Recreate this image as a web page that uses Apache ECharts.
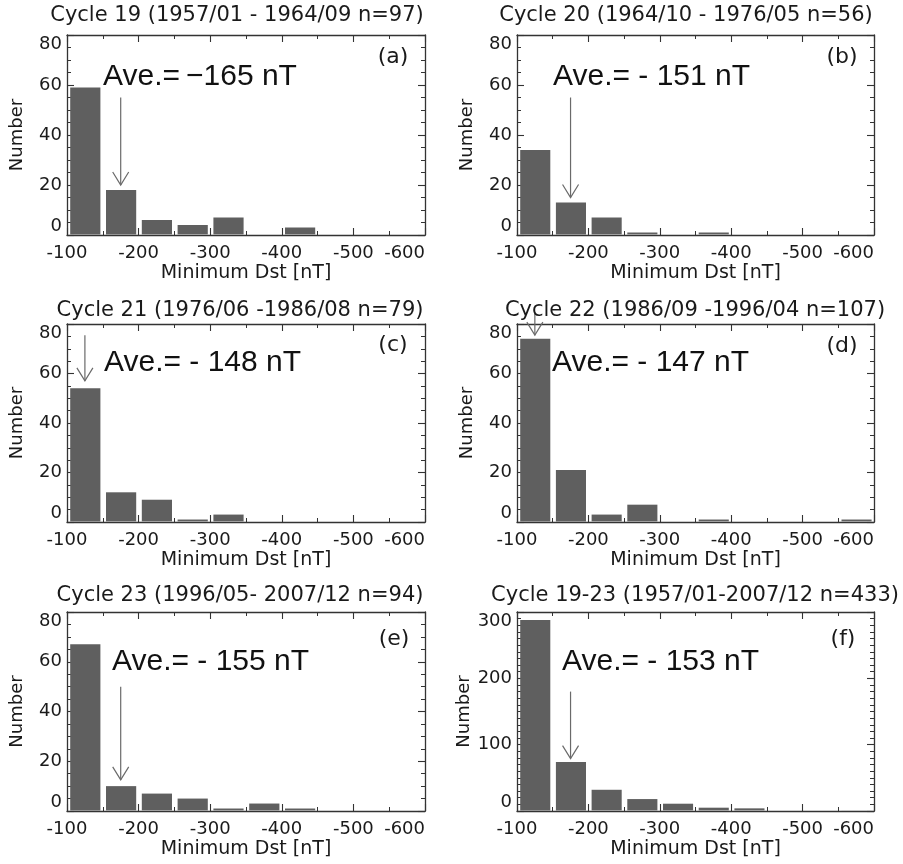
<!DOCTYPE html>
<html>
<head>
<meta charset="utf-8">
<script src="https://cdn.jsdelivr.net/npm/echarts@6/dist/echarts.min.js"></script>
<style>
html,body{margin:0;padding:0;background:#fff;}
#chart{width:903px;height:864px;}
</style>
</head>
<body>
<div id="chart"></div>
<script>
// ---- data ----
const binLow  = [-100, -150, -200, -250, -300, -350, -400, -450, -500, -550];
const binHigh = [-150, -200, -250, -300, -350, -400, -450, -500, -550, -600];
const cycle19   = [59, 18, 6, 4, 7, 0, 3, 0, 0, 0];
const cycle20   = [34, 13, 7, 1, 0, 1, 0, 0, 0, 0];
const cycle21   = [54, 12, 9, 1, 3, 0, 0, 0, 0, 0];
const cycle22   = [74, 21, 3, 7, 0, 1, 0, 0, 0, 1];
const cycle23   = [67, 10, 7, 5, 1, 3, 1, 0, 0, 0];
const cycle1923 = [288, 74, 32, 18, 11, 5, 4, 0, 0, 1];
const panelTitles = [
  'Cycle 19 (1957/01 - 1964/09 n=97)',
  'Cycle 20 (1964/10 - 1976/05 n=56)',
  'Cycle 21 (1976/06 -1986/08 n=79)',
  'Cycle 22 (1986/09 -1996/04 n=107)',
  'Cycle 23 (1996/05- 2007/12 n=94)',
  'Cycle 19-23 (1957/01-2007/12 n=433)'
];
const panelTags = ['(a)', '(b)', '(c)', '(d)', '(e)', '(f)'];
const aveTexts = ['Ave.=\u2009\u2212165 nT', 'Ave.= - 151 nT', 'Ave.= - 148 nT', 'Ave.= - 147 nT', 'Ave.= - 155 nT', 'Ave.= - 153 nT'];
// arrow: x (bin centre containing average), top value, tip value
const arrowX   = [-175, -175, -125, -125, -175, -175];
const arrowTop = [55, 55, 75.5, 84.5, 50, 180];
const arrowTip = [20, 15, 57, 75.5, 12.5, 79];
const yMax      = [80, 80, 80, 80, 80, 300];
const yInterval = [20, 20, 20, 20, 20, 100];
const yMinorSplit = [4, 4, 4, 4, 4, 10];

const counts = [cycle19, cycle20, cycle21, cycle22, cycle23, cycle1923];

// ---- layout (pixels) ----
const grids = [
  {left: 67,  top: 35,  width: 358, height: 200},
  {left: 517, top: 35,  width: 357, height: 200},
  {left: 67,  top: 324, width: 358, height: 198},
  {left: 517, top: 324, width: 357, height: 198},
  {left: 67,  top: 612, width: 358, height: 199},
  {left: 517, top: 612, width: 357, height: 199}
];
const titlePos = [[237, 5], [686, 5], [240, 300], [695, 300], [240, 585], [695, 585]];
const avePos = [[103, 77], [553, 77], [104, 363], [552, 363], [112, 662], [562, 662]];
const tagPos = [[393, 57], [842, 57], [393, 345], [842, 346], [394, 639], [843, 639]];

const AXIS_FONT = '"DejaVu Sans", sans-serif';
const TXT = '#1a1a1a';
const LINE = '#333';
const BAR = '#5f5f5f';

const xAxes = [], yAxes = [], series = [], titles = [], graphics = [];

grids.forEach((g, i) => {
  const common = {
    gridIndex: i,
    axisLine: {show: true, onZero: false, lineStyle: {color: LINE, width: 1.3}},
    splitLine: {show: false}
  };
  const tick = {show: true, inside: true, length: 7, lineStyle: {color: LINE, width: 1.1}};
  // bottom x axis
  xAxes.push(Object.assign({}, common, {
    type: 'value', position: 'bottom', min: -600, max: -100, interval: 100, inverse: true,
    axisTick: tick,
    minorTick: {show: true, splitNumber: 2, length: 4, lineStyle: {color: LINE, width: 1}},
    axisLabel: {show: true, color: TXT, fontFamily: AXIS_FONT, fontSize: 18, margin: 9,
      alignMinLabel: 'right', formatter: v => String(v)},
    name: 'Minimum Dst [nT]', nameLocation: 'middle', nameGap: 29,
    nameTextStyle: {color: TXT, fontFamily: AXIS_FONT, fontSize: 19}
  }));
  // top x axis (ticks only)
  xAxes.push(Object.assign({}, common, {
    type: 'value', position: 'top', min: -600, max: -100, interval: 100, inverse: true,
    axisTick: tick,
    minorTick: {show: true, splitNumber: 2, length: 4, lineStyle: {color: LINE, width: 1}},
    axisLabel: {show: false}
  }));
  // left y axis
  yAxes.push(Object.assign({}, common, {
    type: 'value', position: 'left', min: 0, max: yMax[i], interval: yInterval[i],
    axisTick: tick,
    minorTick: {show: true, splitNumber: yMinorSplit[i], length: 4, lineStyle: {color: LINE, width: 1}},
    axisLabel: {show: true, color: TXT, fontFamily: AXIS_FONT, fontSize: 18, margin: 5,
      verticalAlignMinLabel: 'bottom', verticalAlignMaxLabel: 'top'},
    name: 'Number', nameLocation: 'middle', nameGap: 41, nameRotate: 90,
    nameTextStyle: {color: TXT, fontFamily: AXIS_FONT, fontSize: 18}
  }));
  // right y axis (ticks only)
  yAxes.push(Object.assign({}, common, {
    type: 'value', position: 'right', min: 0, max: yMax[i], interval: yInterval[i],
    axisTick: tick,
    minorTick: {show: true, splitNumber: yMinorSplit[i], length: 4, lineStyle: {color: LINE, width: 1}},
    axisLabel: {show: false}
  }));

  const data = binLow.map((lo, k) => [lo, binHigh[k], counts[i][k]]).filter(d => d[2] > 0);
  series.push({
    type: 'custom',
    xAxisIndex: 2 * i, yAxisIndex: 2 * i,
    z: 2,
    data: data,
    renderItem: (params, api) => {
      const p0 = api.coord([api.value(0), api.value(2)]);
      const p1 = api.coord([api.value(1), 0]);
      const left = Math.min(p0[0], p1[0]) + 3.2;
      const right = Math.max(p0[0], p1[0]) - 2.4;
      return {
        type: 'rect',
        shape: {x: left, y: p0[1], width: right - left, height: p1[1] - p0[1] - 0.6},
        style: {fill: BAR}
      };
    }
  });
  series.push({
    type: 'custom',
    xAxisIndex: 2 * i, yAxisIndex: 2 * i,
    z: 5, clip: false,
    data: [[arrowX[i], arrowTop[i], arrowTip[i]]],
    renderItem: (params, api) => {
      const a = api.coord([api.value(0), api.value(1)]);
      const b = api.coord([api.value(0), api.value(2)]);
      const st = {stroke: '#6a6a6a', lineWidth: 1.2, fill: null};
      return {
        type: 'group',
        children: [
          {type: 'line', shape: {x1: a[0], y1: a[1], x2: b[0], y2: b[1]}, style: st},
          {type: 'polyline', shape: {points: [[b[0] - 8, b[1] - 13], [b[0], b[1]], [b[0] + 8, b[1] - 13]]}, style: st}
        ]
      };
    }
  });

  titles.push({
    text: panelTitles[i], left: titlePos[i][0], top: titlePos[i][1], textAlign: 'center', padding: 0,
    textStyle: {color: TXT, fontFamily: AXIS_FONT, fontSize: 21, fontWeight: 'normal'}
  });
  graphics.push({
    type: 'text', x: avePos[i][0], y: avePos[i][1], z: 10,
    style: {text: aveTexts[i], fill: '#111', font: '30px "Liberation Sans", Arial, sans-serif',
      textAlign: 'left', textVerticalAlign: 'middle'}
  });
  graphics.push({
    type: 'text', x: tagPos[i][0], y: tagPos[i][1], z: 10,
    style: {text: panelTags[i], fill: TXT, font: '22px "DejaVu Sans", sans-serif',
      textAlign: 'center', textVerticalAlign: 'middle'}
  });
});

const chart = echarts.init(document.getElementById('chart'), null, {renderer: 'canvas'});
chart.setOption({
  backgroundColor: '#fff',
  animation: false,
  title: titles,
  grid: grids,
  xAxis: xAxes,
  yAxis: yAxes,
  series: series,
  graphic: graphics
});
</script>
</body>
</html>
